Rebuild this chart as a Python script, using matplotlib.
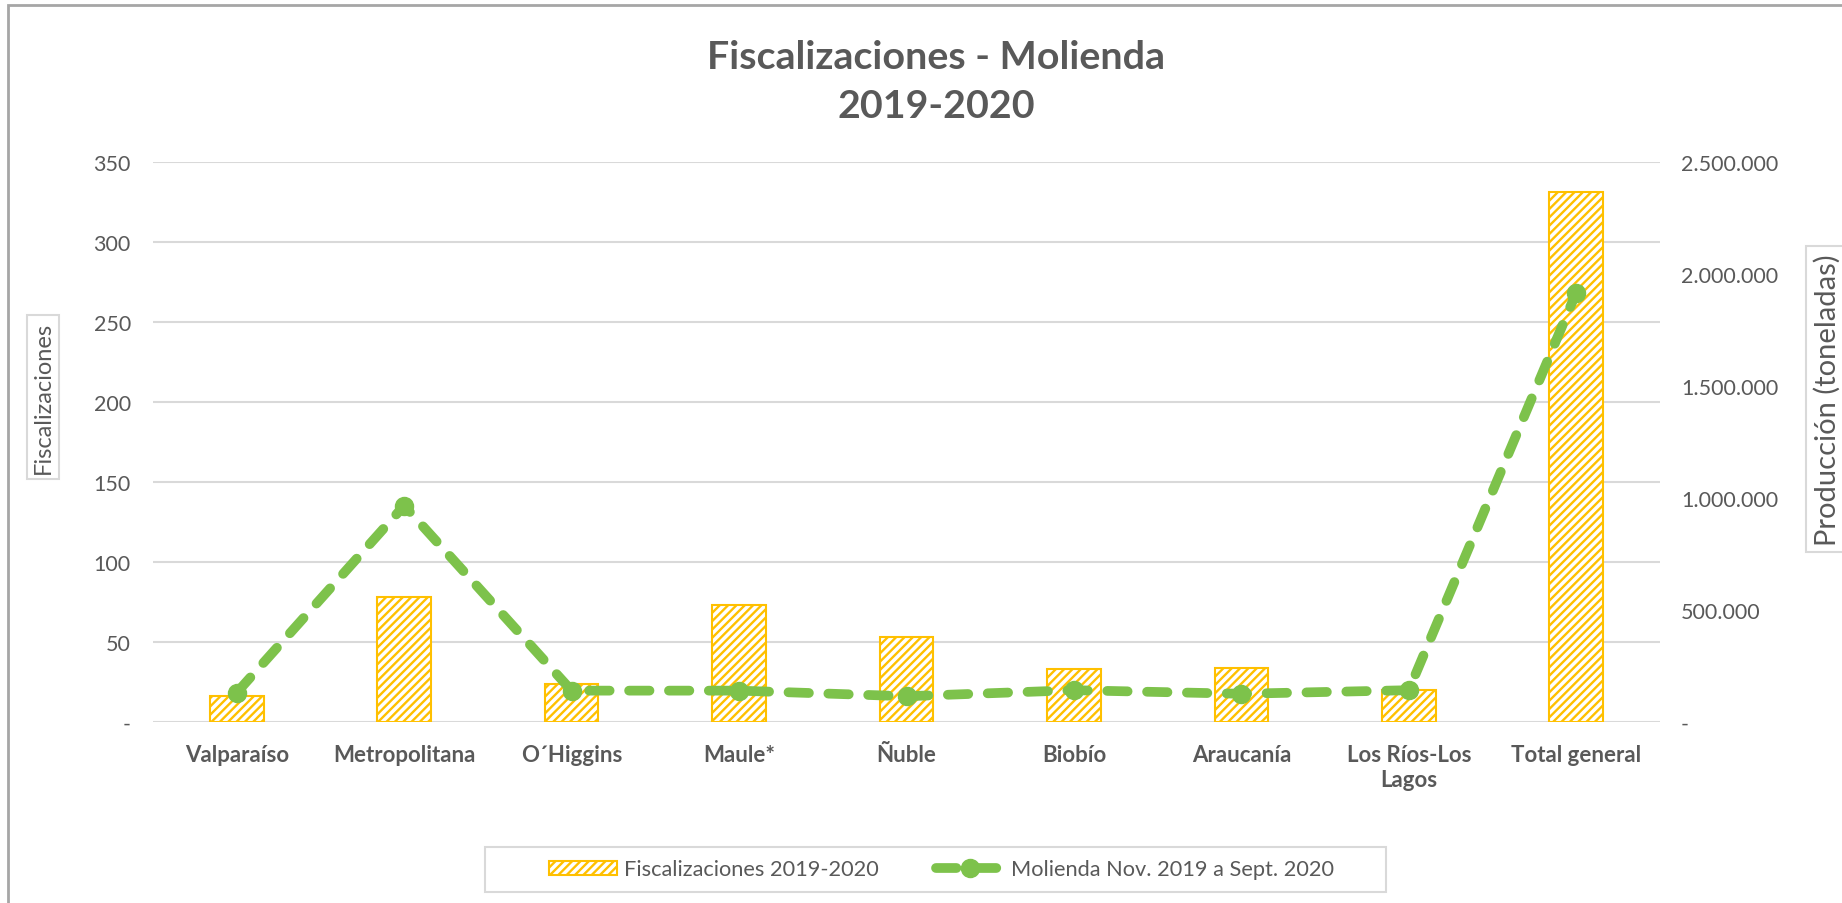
import numpy as np
import matplotlib
matplotlib.use("Agg")
import matplotlib.pyplot as plt
from matplotlib.patches import Rectangle
from matplotlib.ticker import FuncFormatter

plt.rcParams['font.family'] = ['Lato', 'DejaVu Sans']
plt.rcParams['hatch.linewidth'] = 1.7

# data
regions = ['Valparaíso', 'Metropolitana', 'O´Higgins', 'Maule*', 'Ñuble', 'Biobío',
           'Araucanía', 'Los Ríos-Los\nLagos', 'Total general']
fiscalizaciones = [16, 78, 24, 73, 53, 33, 34, 20, 331]
molienda = [131000, 966000, 140000, 140000, 115000, 142000, 126000, 142000, 1917000]

left_ticks = [0, 50, 100, 150, 200, 250, 300, 350]
right_ticks = [0, 500000, 1000000, 1500000, 2000000, 2500000]

GOLD = '#FFC000'
GREEN = '#7DC24B'
TXT = '#595959'
GRID = '#D9D9D9'
W, H = 1842, 904

fig = plt.figure(figsize=(W / 100, H / 100), dpi=100)

# outer chart frame (cut by right/bottom edges like in the reference)
fig.patches.append(Rectangle((8 / W, -0.1), 1.2, 0.1 + 1 - 6 / H,
                             transform=fig.transFigure, fill=False,
                             edgecolor='#A6A6A6', linewidth=2))

ax = fig.add_axes([153 / W, 1 - 723 / H, (1660 - 153) / W, (723 - 163) / H])
x = np.arange(len(regions))
ax.bar(x, fiscalizaciones, width=0.32, color='white', edgecolor=GOLD,
       hatch='////', linewidth=1.5, label='Fiscalizaciones 2019-2020', zorder=2)
ax.set_xlim(-0.5, len(regions) - 0.5)
ax.set_ylim(0, 350)
ax.set_yticks(left_ticks)
ax.yaxis.set_major_formatter(FuncFormatter(lambda v, p: '-' if v == 0 else f'{v:.0f}'))
ax.grid(axis='y', color=GRID, linewidth=1.5)
ax.set_axisbelow(True)
ax.set_xticks(x)
ax.set_xticklabels(regions, fontweight='bold', fontsize=16, color=TXT)
for s in ax.spines.values():
    s.set_visible(False)
ax.tick_params(axis='both', length=0, colors=TXT)
ax.tick_params(axis='y', labelsize=15.5, pad=16)
ax.tick_params(axis='x', pad=16)

ax2 = ax.twinx()
ax2.plot(x, molienda, color=GREEN, linestyle=(0, (2.1, 2.0)), linewidth=7,
         marker='o', markersize=13, label='Molienda Nov. 2019 a Sept. 2020',
         dash_capstyle='round')
ax2.set_ylim(0, 2500000)
ax2.set_yticks(right_ticks)
ax2.yaxis.set_major_formatter(
    FuncFormatter(lambda v, p: '-' if v == 0 else f'{v:,.0f}'.replace(',', '.')))
for s in ax2.spines.values():
    s.set_visible(False)
ax2.tick_params(axis='y', length=0, colors=TXT, labelsize=15.5, pad=15)

fig.text(936 / W, 1 - 82 / H, 'Fiscalizaciones - Molienda\n2019-2020',
         ha='center', va='center', fontsize=28.4, fontweight='bold', color=TXT,
         linespacing=1.5)

box = dict(boxstyle='square,pad=0.25', facecolor='white', edgecolor=GRID, linewidth=1.5)
fig.text(43 / W, 1 - 398 / H, 'Fiscalizaciones', rotation=90, ha='center',
         va='center', fontsize=17, color=TXT, bbox=box)
fig.text(1827 / W, 1 - 400 / H, 'Producción (toneladas)', rotation=90, ha='center',
         va='center', fontsize=21, color=TXT, bbox=box)

# legend box drawn by hand, entries centred inside it
fig.patches.append(Rectangle((485 / W, 1 - 893 / H), (1386 - 485) / W, 45 / H,
                             transform=fig.transFigure, facecolor='white',
                             edgecolor=GRID, linewidth=1.5))
h1, l1 = ax.get_legend_handles_labels()
h2, l2 = ax2.get_legend_handles_labels()
leg = fig.legend(h1 + h2, l1 + l2, loc='center', bbox_to_anchor=(941.5 / W, 1 - 870.5 / H),
                 ncol=2, frameon=False, fontsize=15.7, handlelength=3.1, handleheight=0.65,
                 columnspacing=2.6, handletextpad=0.35, labelcolor=TXT)

fig.savefig('out.png', dpi=100)
